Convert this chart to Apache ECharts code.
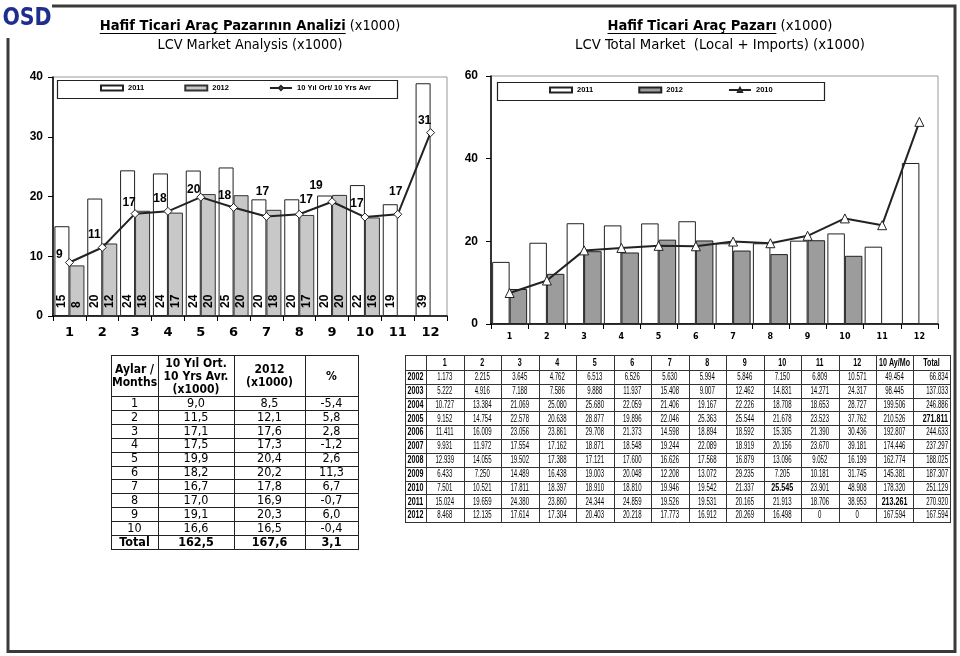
<!DOCTYPE html>
<html><head><meta charset="utf-8">
<script src="https://cdn.jsdelivr.net/npm/echarts@6/dist/echarts.min.js"></script>
<style>html,body{margin:0;padding:0;background:#fff}#c{width:960px;height:656px}</style>
</head><body><div id="c"></div><script>
// ---------------- DATA ----------------
const months = ['1','2','3','4','5','6','7','8','9','10','11','12'];
const tblYears = ['2002','2003','2004','2005','2006','2007','2008','2009','2010','2011','2012'];
const tblHead = ['1','2','3','4','5','6','7','8','9','10','11','12','10 Ay/Mo','Total'];
// monthly LCV total market (units), then 10-month sum and yearly total
const r2002 = [1173,2215,3645,4762,6513,6526,5630,5994,5846,7150,6809,10571,49454,66834];
const r2003 = [5222,4916,7188,7586,9888,11937,15408,9007,12462,14831,14271,24317,98445,137033];
const r2004 = [10727,13384,21069,25080,25680,22059,21406,19167,22226,18708,18653,28727,199506,246886];
const r2005 = [9152,14754,22578,20638,28877,19896,22046,25363,25544,21678,23523,37762,210526,271811];
const r2006 = [11411,16009,23056,23861,29708,21373,14598,18894,18592,15305,21390,30436,192807,244633];
const r2007 = [9931,11972,17554,17162,18871,18548,19244,22089,18919,20156,23670,39181,174446,237297];
const r2008 = [12939,14055,19502,17388,17121,17600,16626,17568,16879,13096,9052,16199,162774,188025];
const r2009 = [6433,7250,14489,16438,19003,20048,12208,13072,29235,7205,10181,31745,145381,187307];
const r2010 = [7501,10521,17811,18397,18910,18810,19946,19542,21337,25545,23901,48908,178320,251129];
const r2011 = [15024,19659,24380,23860,24344,24859,19526,19531,20165,21913,18706,38953,213261,270920];
const r2012 = [8468,12135,17614,17304,20403,20218,17773,16912,20269,16498,0,0,167594,167594];
const tblRows = [r2002,r2003,r2004,r2005,r2006,r2007,r2008,r2009,r2010,r2011,r2012];
const boldCells = ['2005:13','2010:9','2011:12'];

// chart series (x1000)
const y2011 = [15.024,19.659,24.380,23.860,24.344,24.859,19.526,19.531,20.165,21.913,18.706,38.953];
const y2012 = [8.468,12.135,17.614,17.304,20.403,20.218,17.773,16.912,20.269,16.498,null,null];
const y2010 = [7.501,10.521,17.811,18.397,18.910,18.810,19.946,19.542,21.337,25.545,23.901,48.908];
const avg10 = [8.95,11.47,17.13,17.52,19.89,18.17,16.66,17.02,19.12,16.56,17.02,30.68];

// left summary table
const sumMonths = ['1','2','3','4','5','6','7','8','9','10'];
const sumAvg = [9.0,11.5,17.1,17.5,19.9,18.2,16.7,17.0,19.1,16.6];
const sum2012 = [8.5,12.1,17.6,17.3,20.4,20.2,17.8,16.9,20.3,16.5];
const sumPct = [-5.4,5.8,2.8,-1.2,2.6,11.3,6.7,-0.7,6.0,-0.4];
const sumTotals = [162.5,167.6,3.1];

// ---------------- STYLE ----------------
const FONT = '"DejaVu Sans Condensed","DejaVu Sans",sans-serif';
const VFONT = '"DejaVu Sans",sans-serif';
const AFONT = '"Liberation Sans",Arial,sans-serif';
const NFONT = '"Liberation Sans Narrow","Liberation Sans",Arial,sans-serif';
const avgLabelOffsets = [[-10,-8],[-8,-13],[-6,-11],[-8,-13],[-7,-7],[-9,-12],[-4,-25],[7,-15],[-16,-16],[-8,-13],[-2,-23],[-6,-12]];

const mctx = document.createElement('canvas').getContext('2d');
function tw(t, f){ mctx.font = f; return mctx.measureText(t).width; }
function fitSize(t, weight, fam, target){ const w = tw(t, weight + ' 20px ' + fam); return 20 * target / w; }
function fmtDot(n){ return String(n).replace(/\B(?=(\d{3})+(?!\d))/g, '.'); }
function fmtComma(v){ return v.toFixed(1).replace('.', ','); }

const g = [];
// frame
g.push({type:'polyline', shape:{points:[[52,6],[955,6],[955,651.5],[8,651.5],[8,38]]}, style:{stroke:'#3a3a3a', lineWidth:3, fill:null}});
// logo
g.push({type:'text', x:27, y:18, scaleX:0.82, style:{text:'OSD', font:'bold 25px ' + VFONT, fill:'#1f2d8c', stroke:'#fff', lineWidth:1, textAlign:'center', textVerticalAlign:'middle'}});

// titles
function title(cx, y, boldPart, normalPart, line2, boldW, line2W){
  const sb = fitSize(boldPart, 'bold', FONT, boldW);
  const s2 = fitSize(line2, 'normal', FONT, line2W);
  const fb = 'bold ' + sb.toFixed(2) + 'px ' + FONT, fn = 'normal ' + s2.toFixed(2) + 'px ' + FONT;
  const w1 = tw(boldPart, fb), w2 = tw(normalPart, fn);
  const x0 = cx - (w1 + w2) / 2;
  g.push({type:'text', x:x0, y:y, style:{text:boldPart, font:fb, fill:'#000', textAlign:'left', textVerticalAlign:'middle'}});
  g.push({type:'text', x:x0 + w1, y:y, style:{text:normalPart, font:fn, fill:'#000', textAlign:'left', textVerticalAlign:'middle'}});
  g.push({type:'line', shape:{x1:x0, y1:y + 7.5, x2:x0 + w1, y2:y + 7.5}, style:{stroke:'#000', lineWidth:1.2}});
  g.push({type:'text', x:cx, y:y + 19, style:{text:line2, font:fn, fill:'#000', textAlign:'center', textVerticalAlign:'middle'}});
}
title(250, 26, 'Hafif Ticari Araç Pazarının Analizi', ' (x1000)', 'LCV Market Analysis (x1000)', 246, 185);
title(720, 26, 'Hafif Ticari Araç Pazarı', ' (x1000)', 'LCV Total Market  (Local + Imports) (x1000)', 169, 290);

// legend boxes
g.push({type:'rect', shape:{x:57.5, y:80.5, width:340, height:18}, style:{fill:'none', stroke:'#222', lineWidth:1.2}});
g.push({type:'rect', shape:{x:497.5, y:82.5, width:327, height:18}, style:{fill:'none', stroke:'#222', lineWidth:1.2}});

// left summary table
(function(){
  const cols = [111,158,234,305,358], top = 355, hb = 396, bot = 549;
  const rh = (bot - hb) / 11;
  const ls = {stroke:'#222', lineWidth:1};
  const hy = [top, hb]; for (let i = 1; i <= 11; i++) hy.push(hb + i * rh);
  hy.forEach(y => g.push({type:'line', shape:{x1:cols[0], y1:Math.round(y)+0.5, x2:cols[4], y2:Math.round(y)+0.5}, style:ls}));
  cols.forEach(x => g.push({type:'line', shape:{x1:x+0.5, y1:top, x2:x+0.5, y2:bot+1}, style:ls}));
  const cx = i => (cols[i] + cols[i+1]) / 2;
  const heads = ['Aylar /\nMonths','10 Yıl Ort.\n10 Yrs Avr.\n(x1000)','2012\n(x1000)','%'];
  heads.forEach((h, i) => g.push({type:'text', x:cx(i), y:(top+hb)/2 + 1, style:{text:h, font:'bold 12px ' + FONT, lineHeight:13, fill:'#000', textAlign:'center', textVerticalAlign:'middle'}}));
  for (let r = 0; r < 10; r++) {
    const yy = hb + (r + 0.5) * rh + 0.5;
    const vals = [sumMonths[r], fmtComma(sumAvg[r]), fmtComma(sum2012[r]), fmtComma(sumPct[r])];
    vals.forEach((v, i) => g.push({type:'text', x:cx(i), y:yy, style:{text:v, font:'12.5px ' + FONT, fill:'#000', textAlign:'center', textVerticalAlign:'middle'}}));
  }
  const ty = hb + 10.5 * rh + 0.5;
  ['Total', fmtComma(sumTotals[0]), fmtComma(sumTotals[1]), fmtComma(sumTotals[2])].forEach((v, i) =>
    g.push({type:'text', x:cx(i), y:ty, style:{text:v, font:'bold 12.5px ' + FONT, fill:'#000', textAlign:'center', textVerticalAlign:'middle'}}));
})();

// right data table
(function(){
  const edges = [405, 426]; for (let i = 1; i <= 12; i++) edges.push(426 + i * 37.5); edges.push(913, 950);
  const top = 355, hb = 370, bot = 522, rh = (bot - hb) / 11;
  const ls = {stroke:'#333', lineWidth:1};
  const hy = [top, hb]; for (let i = 1; i <= 11; i++) hy.push(hb + i * rh);
  hy.forEach(y => g.push({type:'line', shape:{x1:edges[0], y1:Math.round(y)+0.5, x2:edges[edges.length-1], y2:Math.round(y)+0.5}, style:ls}));
  edges.forEach(x => g.push({type:'line', shape:{x1:Math.round(x)+0.5, y1:top, x2:Math.round(x)+0.5, y2:bot+1}, style:ls}));
  const fN = '10px ' + NFONT, fB = 'bold 10px ' + NFONT;
  const sN = 18.5 / tw('15.024', fN), sB = 31 / tw('10 Ay/Mo', fB);
  const cell = (x, y, t, bold, align) => g.push({type:'text', x:x, y:y, scaleX: bold ? sB : sN,
    style:{text:t, font: bold ? fB : fN, fill:'#000', textAlign:align || 'center', textVerticalAlign:'middle'}});
  tblHead.forEach((h, i) => cell((edges[i+1] + edges[i+2]) / 2, (top + hb) / 2 + 0.5, h, true));
  tblRows.forEach((row, r) => {
    const yy = hb + (r + 0.5) * rh + 0.5;
    cell((edges[0] + edges[1]) / 2, yy, tblYears[r], true);
    row.forEach((v, i) => {
      const b = boldCells.indexOf(tblYears[r] + ':' + i) >= 0;
      if (i === 13) cell(edges[15] - 2, yy, fmtDot(v), b, 'right');
      else cell((edges[i+1] + edges[i+2]) / 2, yy, fmtDot(v), b);
    });
  });
})();

// ---------------- CHART ----------------
const chart = echarts.init(document.getElementById('c'), null, {renderer:'canvas'});
const axisLine = {show:true, lineStyle:{color:'#000', width:1.5}};
const tick = {show:true, length:5, lineStyle:{color:'#000'}};
const barLabel = {show:true, position:'insideBottom', rotate:90, align:'left', verticalAlign:'middle', distance:8,
  formatter: p => Math.round(p.value), fontFamily:AFONT, fontWeight:'bold', fontSize:12, color:'#000'};
const legendText = {fontSize:7.5, fontWeight:'bold', fontFamily:AFONT, color:'#000'};

chart.setOption({
  animation:false,
  backgroundColor:'#fff',
  grid:[
    {left:53, top:77, width:394, height:239, show:true, borderColor:'#999', borderWidth:1},
    {left:491, top:76, width:447, height:248, show:true, borderColor:'#999', borderWidth:1}
  ],
  legend:[
    {data:[{name:'2011', icon:'rect'},{name:'2012', icon:'rect'},{name:'10 Yıl Ort/ 10 Yrs Avr'}], left:100, top:84, padding:0, itemGap:40, itemWidth:22, itemHeight:5, selectedMode:false, textStyle:legendText},
    {data:[{name:'R2011', icon:'rect'},{name:'R2012', icon:'rect'},{name:'R2010'}], left:549, top:86, padding:0, itemGap:45, itemWidth:22, itemHeight:5, selectedMode:false, textStyle:legendText, formatter: n => n.slice(1)}
  ],
  xAxis:[
    {type:'category', gridIndex:0, data:months, axisLine:axisLine, axisTick:Object.assign({interval:0}, tick),
      axisLabel:{interval:0, margin:10, fontFamily:VFONT, fontWeight:'bold', fontSize:13, color:'#000'}, splitLine:{show:false}},
    {type:'category', gridIndex:1, data:months, axisLine:axisLine, axisTick:Object.assign({interval:0}, tick),
      axisLabel:{interval:0, margin:9, fontFamily:VFONT, fontWeight:'bold', fontSize:8, color:'#000'}, splitLine:{show:false}}
  ],
  yAxis:[
    {type:'value', gridIndex:0, min:0, max:40, interval:10, axisLine:axisLine, axisTick:tick,
      axisLabel:{margin:10, fontFamily:AFONT, fontWeight:'bold', fontSize:12, color:'#000'}, splitLine:{show:false}},
    {type:'value', gridIndex:1, min:0, max:60, interval:20, axisLine:axisLine, axisTick:tick,
      axisLabel:{margin:13, fontFamily:AFONT, fontWeight:'bold', fontSize:12, color:'#000'}, splitLine:{show:false}}
  ],
  series:[
    {name:'2011', type:'bar', xAxisIndex:0, yAxisIndex:0, data:y2011, barWidth:15, barGap:'0%',
      itemStyle:{color:'#fff', borderColor:'#222', borderWidth:1}, label:barLabel},
    {name:'2012', type:'bar', xAxisIndex:0, yAxisIndex:0, data:y2012, barWidth:15, barGap:'0%',
      itemStyle:{color:'#c8c8c8', borderColor:'#333', borderWidth:1}, label:barLabel},
    {name:'10 Yıl Ort/ 10 Yrs Avr', type:'line', xAxisIndex:0, yAxisIndex:0, z:5,
      data: avg10.map((v, i) => ({value:v, label:{offset:avgLabelOffsets[i]}})),
      symbol:'diamond', symbolSize:8, lineStyle:{color:'#222', width:2},
      itemStyle:{color:'#fff', borderColor:'#222', borderWidth:1},
      label:{show:true, position:'inside', formatter: p => Math.round(p.value), fontFamily:AFONT, fontWeight:'bold', fontSize:12, color:'#000'}},
    {name:'R2011', type:'bar', xAxisIndex:1, yAxisIndex:1, data:y2011, barWidth:17.5, barGap:'0%',
      itemStyle:{color:'#fff', borderColor:'#222', borderWidth:1}},
    {name:'R2012', type:'bar', xAxisIndex:1, yAxisIndex:1, data:y2012, barWidth:17.5, barGap:'0%',
      itemStyle:{color:'#9c9c9c', borderColor:'#222', borderWidth:1}},
    {name:'R2010', type:'line', xAxisIndex:1, yAxisIndex:1, z:5, data:y2010,
      symbol:'triangle', symbolSize:9, lineStyle:{color:'#222', width:2},
      itemStyle:{color:'#fff', borderColor:'#222', borderWidth:1}}
  ],
  graphic:{elements:g}
});
</script></body></html>
